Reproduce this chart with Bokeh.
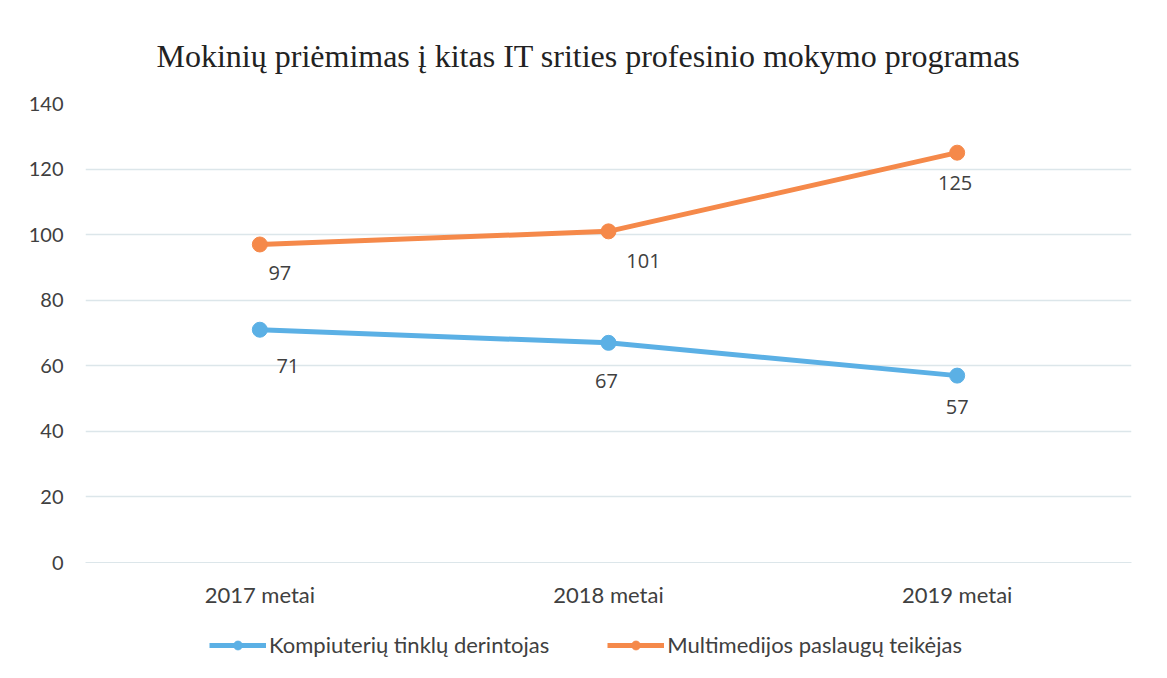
from bokeh.plotting import figure
from bokeh.layouts import column
from bokeh.models import ColumnDataSource, LabelSet, Legend, LegendItem, Range1d, FixedTicker
from bokeh.embed import file_html
from bokeh.resources import INLINE
from bokeh.core.properties import value

# ---- data ----
years = ["2017 metai", "2018 metai", "2019 metai"]
series_names = ["Kompiuterių tinklų derintojas", "Multimedijos paslaugų teikėjas"]
kompiuteriu = [71, 67, 57]
multimedijos = [97, 101, 125]
y_ticks = [0, 20, 40, 60, 80, 100, 120, 140]
title_text = "Mokinių priėmimas į kitas IT srities profesinio mokymo programas"

# label offsets (screen px) for data labels
blue_dx = [28, -2, 0]
blue_dy = [-36, -38, -31]
orange_dx = [20, 35, -2]
orange_dy = [-29, -30, -30]

BLUE = "#5BB0E5"
ORANGE = "#F5894A"
TXT = "#404040"

p = figure(x_range=years, frame_width=1046, frame_height=459, output_backend="svg",
           toolbar_location=None, min_border_left=85, min_border_right=20,
           min_border_top=103, min_border_bottom=50)
p.y_range = Range1d(0, 140)

p.title.text = title_text
p.title.text_font = "Liberation Serif"
p.title.text_font_size = "32px"
p.title.text_font_style = "normal"
p.title.text_color = "#222222"
p.title.align = "left"
p.title.offset = 71
p.title.standoff = 59

p.outline_line_color = None
p.background_fill_color = "white"
p.border_fill_color = "white"

p.xgrid.grid_line_color = None
p.ygrid.grid_line_color = "#DCE6EA"
p.ygrid.grid_line_width = 1.5

p.yaxis.ticker = FixedTicker(ticks=y_ticks)
for ax in (p.xaxis, p.yaxis):
    ax.major_tick_line_color = None
    ax.minor_tick_line_color = None
    ax.major_label_text_font = "Lato"
    ax.major_label_text_font_size = "20px"
    ax.major_label_text_color = TXT
p.xaxis.major_label_text_font_size = "22px"
p.yaxis.axis_line_color = None
p.xaxis.axis_line_color = "#DCE6EA"
p.yaxis.major_label_standoff = 16
p.xaxis.major_label_standoff = 12

src_b = ColumnDataSource(dict(x=years, y=kompiuteriu, lab=[str(v) for v in kompiuteriu], dx=blue_dx, dy=blue_dy))
src_o = ColumnDataSource(dict(x=years, y=multimedijos, lab=[str(v) for v in multimedijos], dx=orange_dx, dy=orange_dy))

p.line("x", "y", source=src_b, line_color=BLUE, line_width=5)
p.scatter("x", "y", source=src_b, size=15, fill_color=BLUE, line_color=BLUE)
p.line("x", "y", source=src_o, line_color=ORANGE, line_width=5)
p.scatter("x", "y", source=src_o, size=15, fill_color=ORANGE, line_color=ORANGE)

for src in (src_b, src_o):
    p.add_layout(LabelSet(x="x", y="y", text="lab", source=src, x_offset="dx", y_offset="dy",
                          text_align="center", text_baseline="middle",
                          text_font=value("Open Sans"), text_font_size="20px", text_color=TXT))

# ---- legend strip below the chart (same series, plotted out of view) ----
leg = figure(x_range=years, y_range=Range1d(1000, 1001), width=1151, height=50,
             output_backend="svg", toolbar_location=None, min_border=0)
leg.axis.visible = False
leg.grid.visible = False
leg.outline_line_color = None
lb = leg.line("x", "y", source=src_b, line_color=BLUE, line_width=5)
cb = leg.scatter("x", "y", source=src_b, size=15, fill_color=BLUE, line_color=BLUE)
lo = leg.line("x", "y", source=src_o, line_color=ORANGE, line_width=5)
co = leg.scatter("x", "y", source=src_o, size=15, fill_color=ORANGE, line_color=ORANGE)

legend = Legend(items=[LegendItem(label=series_names[0], renderers=[lb, cb]),
                       LegendItem(label=series_names[1], renderers=[lo, co])],
                orientation="horizontal", location=(124, 4),
                label_text_font="Lato", label_text_font_size="22px", label_text_color=TXT,
                glyph_width=57, glyph_height=22, spacing=58, label_standoff=3,
                border_line_color=None, background_fill_alpha=0, margin=0, padding=0)
leg.add_layout(legend, "center")

layout = column(p, leg, spacing=0)
open("out.html", "w").write(file_html(layout, INLINE))
